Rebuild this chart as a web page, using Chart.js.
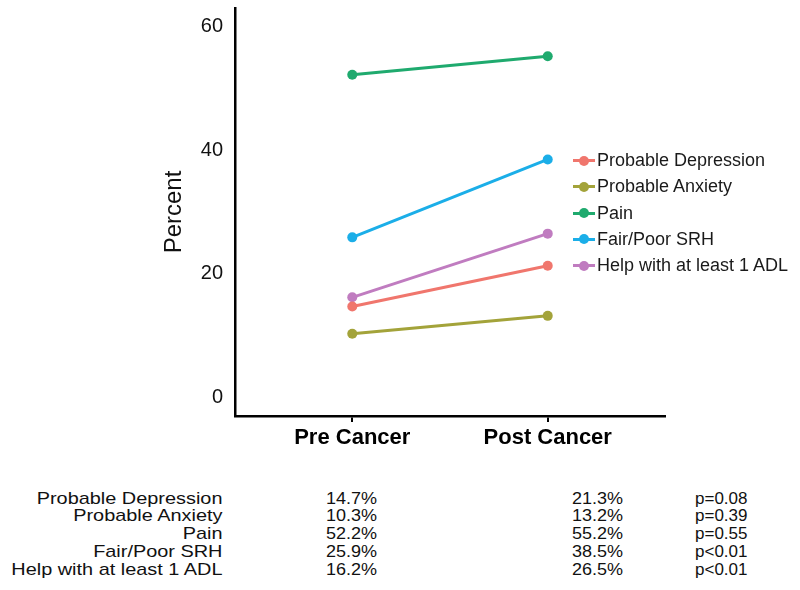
<!DOCTYPE html>
<html>
<head>
<meta charset="utf-8">
<script src="https://cdn.jsdelivr.net/npm/chart.js@4/dist/chart.umd.min.js"></script>
<style>
  body { margin: 0; background: #fff; font-family: "Liberation Sans", Arial, sans-serif; overflow: hidden; }
  #wrap { position: relative; width: 800px; height: 590px; overflow: hidden; }
  #chartBox { position: absolute; left: 0; top: -16px; width: 800px; height: 486px; }
  #legend { position: absolute; left: 573px; top: 147px; }
  .leg-row { position: relative; height: 26.3px; line-height: 26.3px; font-size: 18px; color: #1a1a1a; white-space: nowrap; }
  .leg-line { position: absolute; left: 0; top: 12px; width: 22px; height: 3px; }
  .leg-dot { position: absolute; left: 6px; top: 8.5px; width: 10px; height: 10px; border-radius: 50%; }
  .leg-text { position: absolute; left: 24px; top: 0; }
  .tcol { position: absolute; top: 489.5px; font-size: 17px; line-height: 17.85px; color: #111; white-space: nowrap; }
  #colLabel { right: 578px; text-align: right; transform: scaleX(1.17); transform-origin: right top; }
  #colPre { left: 326px; transform: scaleX(1.06); transform-origin: left top; }
  #colPost { left: 572px; transform: scaleX(1.06); transform-origin: left top; }
  #colP { left: 695px; }
</style>
</head>
<body>
<div id="wrap">
  <div id="chartBox"><canvas id="lineChart"></canvas></div>
  <div id="legend"></div>
  <div class="tcol" id="colLabel"></div>
  <div class="tcol" id="colPre"></div>
  <div class="tcol" id="colPost"></div>
  <div class="tcol" id="colP"></div>
</div>
<script>
const timePoints = ['Pre Cancer', 'Post Cancer'];
const measures = ['Probable Depression', 'Probable Anxiety', 'Pain', 'Fair/Poor SRH', 'Help with at least 1 ADL'];
const preValues = [14.7, 10.3, 52.2, 25.9, 16.2];
const postValues = [21.3, 13.2, 55.2, 38.5, 26.5];
const pValues = ['p=0.08', 'p=0.39', 'p=0.55', 'p<0.01', 'p<0.01'];
const yTicks = [0, 20, 40, 60];
const colors = ['#F0766D', '#A3A33A', '#1FAA6E', '#1BAEE8', '#C07CC0'];

// one line per measure, pre -> post
function buildDatasets() {
  return measures.map((name, i) => ({
    label: name,
    data: [
      { x: 1, y: preValues[i] },
      { x: 2, y: postValues[i] }
    ],
    borderColor: colors[i],
    backgroundColor: colors[i],
    borderWidth: 3,
    pointRadius: 5,
    pointBorderWidth: 0,
    pointHoverRadius: 5,
    tension: 0
  }));
}

const ctx = document.getElementById('lineChart').getContext('2d');
new Chart(ctx, {
  type: 'line',
  data: { datasets: buildDatasets() },
  options: {
    responsive: true,
    maintainAspectRatio: false,
    animation: false,
    layout: { padding: { left: 0, right: 135, top: 7, bottom: 0 } },
    plugins: {
      legend: { display: false },
      tooltip: { enabled: false }
    },
    scales: {
      x: {
        type: 'linear',
        min: 0.4,
        max: 2.6,
        afterBuildTicks: scale => { scale.ticks = timePoints.map((t, i) => ({ value: i + 1 })); },
        afterFit: scale => { scale.height = 54; },
        ticks: {
          callback: v => timePoints[v - 1],
          color: '#000',
          padding: 3,
          maxRotation: 0,
          autoSkip: false,
          font: { family: '"Liberation Sans", Arial, sans-serif', size: 22, weight: 'bold' }
        },
        grid: { drawOnChartArea: false, drawTicks: true, tickLength: 6, color: '#000', lineWidth: 2 },
        border: { display: true, color: '#000', width: 2.5 }
      },
      y: {
        min: -3,
        max: 63,
        afterBuildTicks: scale => { scale.ticks = yTicks.map(v => ({ value: v })); },
        afterFit: scale => { scale.width = 235; },
        ticks: {
          color: '#111',
          padding: 12,
          font: { family: '"Liberation Sans", Arial, sans-serif', size: 20 }
        },
        grid: { drawOnChartArea: false, drawTicks: false },
        border: { display: true, color: '#000', width: 2.5 },
        title: {
          display: true,
          text: 'Percent',
          color: '#111',
          padding: { top: 160, bottom: 0 },
          font: { family: '"Liberation Sans", Arial, sans-serif', size: 24 }
        }
      }
    }
  }
});

// legend
const legend = document.getElementById('legend');
measures.forEach((name, i) => {
  const row = document.createElement('div');
  row.className = 'leg-row';
  row.innerHTML = `<span class="leg-line" style="background:${colors[i]}"></span>` +
    `<span class="leg-dot" style="background:${colors[i]}"></span>` +
    `<span class="leg-text">${name}</span>`;
  legend.appendChild(row);
});

// table under the chart
document.getElementById('colLabel').innerHTML = measures.join('<br>');
document.getElementById('colPre').innerHTML = preValues.map(v => v.toFixed(1) + '%').join('<br>');
document.getElementById('colPost').innerHTML = postValues.map(v => v.toFixed(1) + '%').join('<br>');
document.getElementById('colP').innerHTML = pValues.join('<br>');
</script>
</body>
</html>
